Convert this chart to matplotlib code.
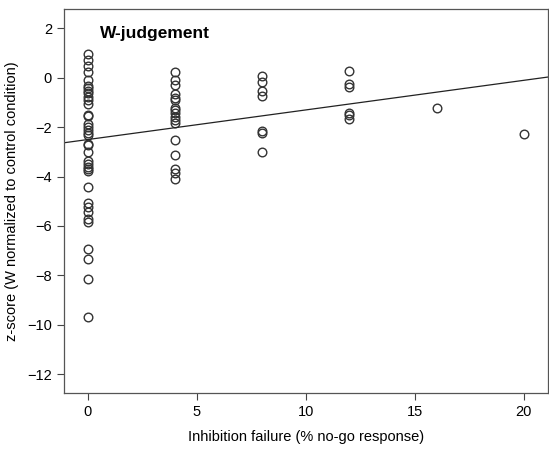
import numpy as np
import matplotlib
matplotlib.use("Agg")
import matplotlib.pyplot as plt

plt.rcParams['font.family'] = ['Liberation Sans', 'DejaVu Sans']

# Data: inhibition failure (% no-go response) vs z-score
x0_vals = [0.96, 0.72, 0.49, 0.24, -0.07, -0.34, -0.43, -0.53, -0.63, -0.77, -0.88,
           -1.07, -1.51, -1.54, -1.88, -2.01, -2.12, -2.23, -2.32, -2.66, -2.73,
           -3.02, -3.36, -3.51, -3.60, -3.70, -3.78, -4.41, -5.06, -5.25, -5.43,
           -5.70, -5.83, -6.95, -7.32, -8.14, -9.68]
x4_vals = [0.22, -0.09, -0.30, -0.67, -0.80, -0.90, -1.24, -1.31, -1.44, -1.58,
           -1.71, -1.81, -2.52, -3.13, -3.70, -3.87, -4.08]
x8_vals = [0.07, -0.18, -0.54, -0.73, -2.16, -2.25, -3.00]
x12_vals = [0.27, -0.23, -0.39, -1.42, -1.51, -1.65]
x16_vals = [-1.22]
x20_vals = [-2.28]

# Linear fit line as shown in the reference
fit_intercept = -2.50
fit_slope = 0.12

groups = [(0, x0_vals), (4, x4_vals), (8, x8_vals), (12, x12_vals), (16, x16_vals), (20, x20_vals)]
xs = np.concatenate([[g] * len(v) for g, v in groups]).astype(float)
ys = np.concatenate([v for g, v in groups])

xticks = [0, 5, 10, 15, 20]
yticks = [2, 0, -2, -4, -6, -8, -10, -12]
xlim = (-1.1, 21.1)
ylim = (-12.76, 2.77)

fig = plt.figure(figsize=(5.49, 4.5), dpi=100)
ax = fig.add_axes([0.116, 0.127, 0.882, 0.852])

ax.plot(xs, ys, linestyle='none', marker='o', markersize=6.2,
        markerfacecolor='none', markeredgecolor='#333333', markeredgewidth=1.0)

xl = np.array(xlim)
ax.plot(xl, fit_intercept + fit_slope * xl, color='#222222', linewidth=0.9)

ax.set_xlim(*xlim)
ax.set_ylim(*ylim)
ax.set_xticks(xticks)
ax.set_yticks(yticks)
ax.tick_params(direction='out', length=5, width=0.8, colors='#444444', labelsize=10.5, labelcolor='black')
for s in ax.spines.values():
    s.set_color('#555555')
    s.set_linewidth(0.9)

ax.set_xlabel('Inhibition failure (% no-go response)', fontsize=10.5, labelpad=8)
ax.set_ylabel('z-score (W normalized to control condition)', fontsize=10.5, labelpad=6)
ax.text(0.57, 1.81, 'W-judgement', fontsize=12.5, fontweight='bold', va='center', ha='left')

fig.savefig('out.png', dpi=100)
